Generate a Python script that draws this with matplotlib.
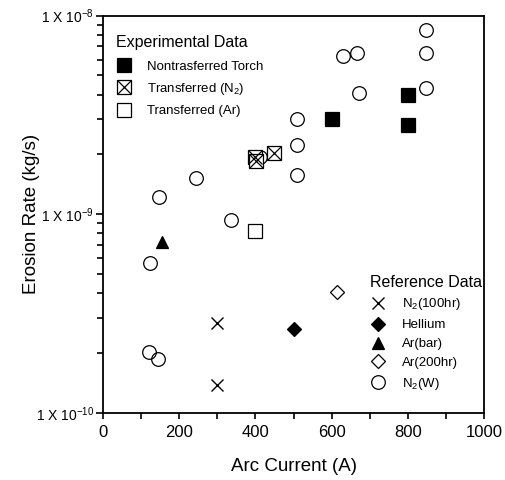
import matplotlib
matplotlib.use("Agg")
import matplotlib.pyplot as plt
import numpy as np
from matplotlib.lines import Line2D
from matplotlib.legend_handler import HandlerTuple
from matplotlib.ticker import FixedLocator, FuncFormatter, LogLocator, NullFormatter

plt.rcParams["font.family"] = ["Liberation Sans", "DejaVu Sans"]
plt.rcParams["mathtext.default"] = "regular"

# experimental data
nontransferred_current = [600, 800, 800]
nontransferred_rate = [3.0e-9, 4.0e-9, 2.8e-9]
transferred_n2_current = [400, 402, 450]
transferred_n2_rate = [1.93e-9, 1.85e-9, 2.04e-9]
transferred_ar_current = [400]
transferred_ar_rate = [8.2e-10]

# reference data
n2_100hr_current = [300, 300]
n2_100hr_rate = [2.84e-10, 1.38e-10]
helium_current = [502]
helium_rate = [2.63e-10]
ar_bar_current = [155]
ar_bar_rate = [7.2e-10]
ar_200hr_current = [615]
ar_200hr_rate = [4.06e-10]
n2_w_current = [124, 148, 245, 335, 412, 508, 510, 508, 630, 667, 672, 847, 847, 847, 122, 146]
n2_w_rate = [5.65e-10, 1.22e-9, 1.52e-9, 9.3e-10, 1.95e-9, 3.0e-9, 2.23e-9, 1.57e-9,
             6.25e-9, 6.5e-9, 4.08e-9, 8.5e-9, 6.45e-9, 4.3e-9, 2.03e-10, 1.86e-10]

x_ticks = [0, 200, 400, 600, 800, 1000]
y_decades = [1e-10, 1e-9, 1e-8]

fig = plt.figure(figsize=(5.05, 4.8), dpi=100)
ax = fig.add_axes([0.2034, 0.1402, 0.7556, 0.8275])

kw = dict(linestyle="none", markeredgecolor="black", markeredgewidth=0.9)
ax.plot(n2_w_current, n2_w_rate, marker="o", markersize=9.8, markerfacecolor="none", **kw)
h_nt, = ax.plot(nontransferred_current, nontransferred_rate, marker="s", markersize=10.5,
                markerfacecolor="black", **kw)
h_n2_box, = ax.plot(transferred_n2_current, transferred_n2_rate, marker="s", markersize=10.5,
                    markerfacecolor="white", **kw)
h_n2_x, = ax.plot(transferred_n2_current, transferred_n2_rate, marker="x", markersize=10,
                  color="black", linestyle="none", markeredgewidth=0.9)
h_ar, = ax.plot(transferred_ar_current, transferred_ar_rate, marker="s", markersize=10.5,
                markerfacecolor="white", **kw)
h_x, = ax.plot(n2_100hr_current, n2_100hr_rate, marker="x", markersize=8, color="black",
               linestyle="none", markeredgewidth=1.0)
h_he, = ax.plot(helium_current, helium_rate, marker="D", markersize=7.5, markerfacecolor="black", **kw)
h_tri, = ax.plot(ar_bar_current, ar_bar_rate, marker="^", markersize=8.5, markerfacecolor="black", **kw)
h_dia, = ax.plot(ar_200hr_current, ar_200hr_rate, marker="D", markersize=7, markerfacecolor="white", **kw)
h_circ = Line2D([], [], marker="o", markersize=9.8, markerfacecolor="none", **kw)

ax.set_yscale("log")
ax.set_xlim(0, 1000)
ax.set_ylim(1e-10, 1e-8)

ax.xaxis.set_major_locator(FixedLocator(np.arange(0, 1001, 100)))
ax.xaxis.set_major_formatter(FuncFormatter(lambda v, p: f"{int(v)}" if int(v) in x_ticks else ""))
ax.yaxis.set_major_locator(FixedLocator(y_decades))
ax.yaxis.set_major_formatter(FuncFormatter(lambda v, p: f"1 X 10$^{{{int(round(np.log10(v)))}}}$"))
ax.yaxis.set_minor_locator(LogLocator(base=10, subs=np.arange(2, 10), numticks=20))
ax.yaxis.set_minor_formatter(NullFormatter())

ax.tick_params(axis="x", direction="out", length=4, width=1.2, labelsize=12, pad=5)
ax.tick_params(axis="y", which="major", direction="out", length=5, width=1.2, labelsize=10, pad=1)
ax.tick_params(axis="y", which="minor", direction="out", length=4, width=1.2)
for s in ax.spines.values():
    s.set_linewidth(1.3)

ax.set_xlabel("Arc Current (A)", fontsize=13.5, labelpad=13)
ax.set_ylabel("Erosion Rate (kg/s)", fontsize=13.5, labelpad=-3)

leg1 = ax.legend([h_nt, (h_n2_box, h_n2_x), h_ar],
                 ["Nontrasferred Torch", "Transferred (N$_2$)", "Transferred (Ar)"],
                 handler_map={tuple: HandlerTuple(ndivide=1)},
                 title="Experimental Data", title_fontsize=11.5, fontsize=9.5,
                 loc="upper left", bbox_to_anchor=(0.01, 0.968), frameon=False,
                 alignment="left", handlelength=1.2, handletextpad=1.15,
                 labelspacing=0.62, borderaxespad=0.3)
leg1.get_title().set_position((0, 2))
ax.add_artist(leg1)
ax.legend([h_x, h_he, h_tri, h_dia, h_circ],
          ["N$_2$(100hr)", "Hellium", "Ar(bar)", "Ar(200hr)", "N$_2$(W)"],
          title="Reference Data", title_fontsize=11.5, fontsize=9.5,
          loc="lower right", bbox_to_anchor=(1.018, 0.03), frameon=False,
          alignment="left", handlelength=1.2, handletextpad=1.2,
          labelspacing=0.5, borderaxespad=0.3)

fig.savefig("out.png", dpi=100)
